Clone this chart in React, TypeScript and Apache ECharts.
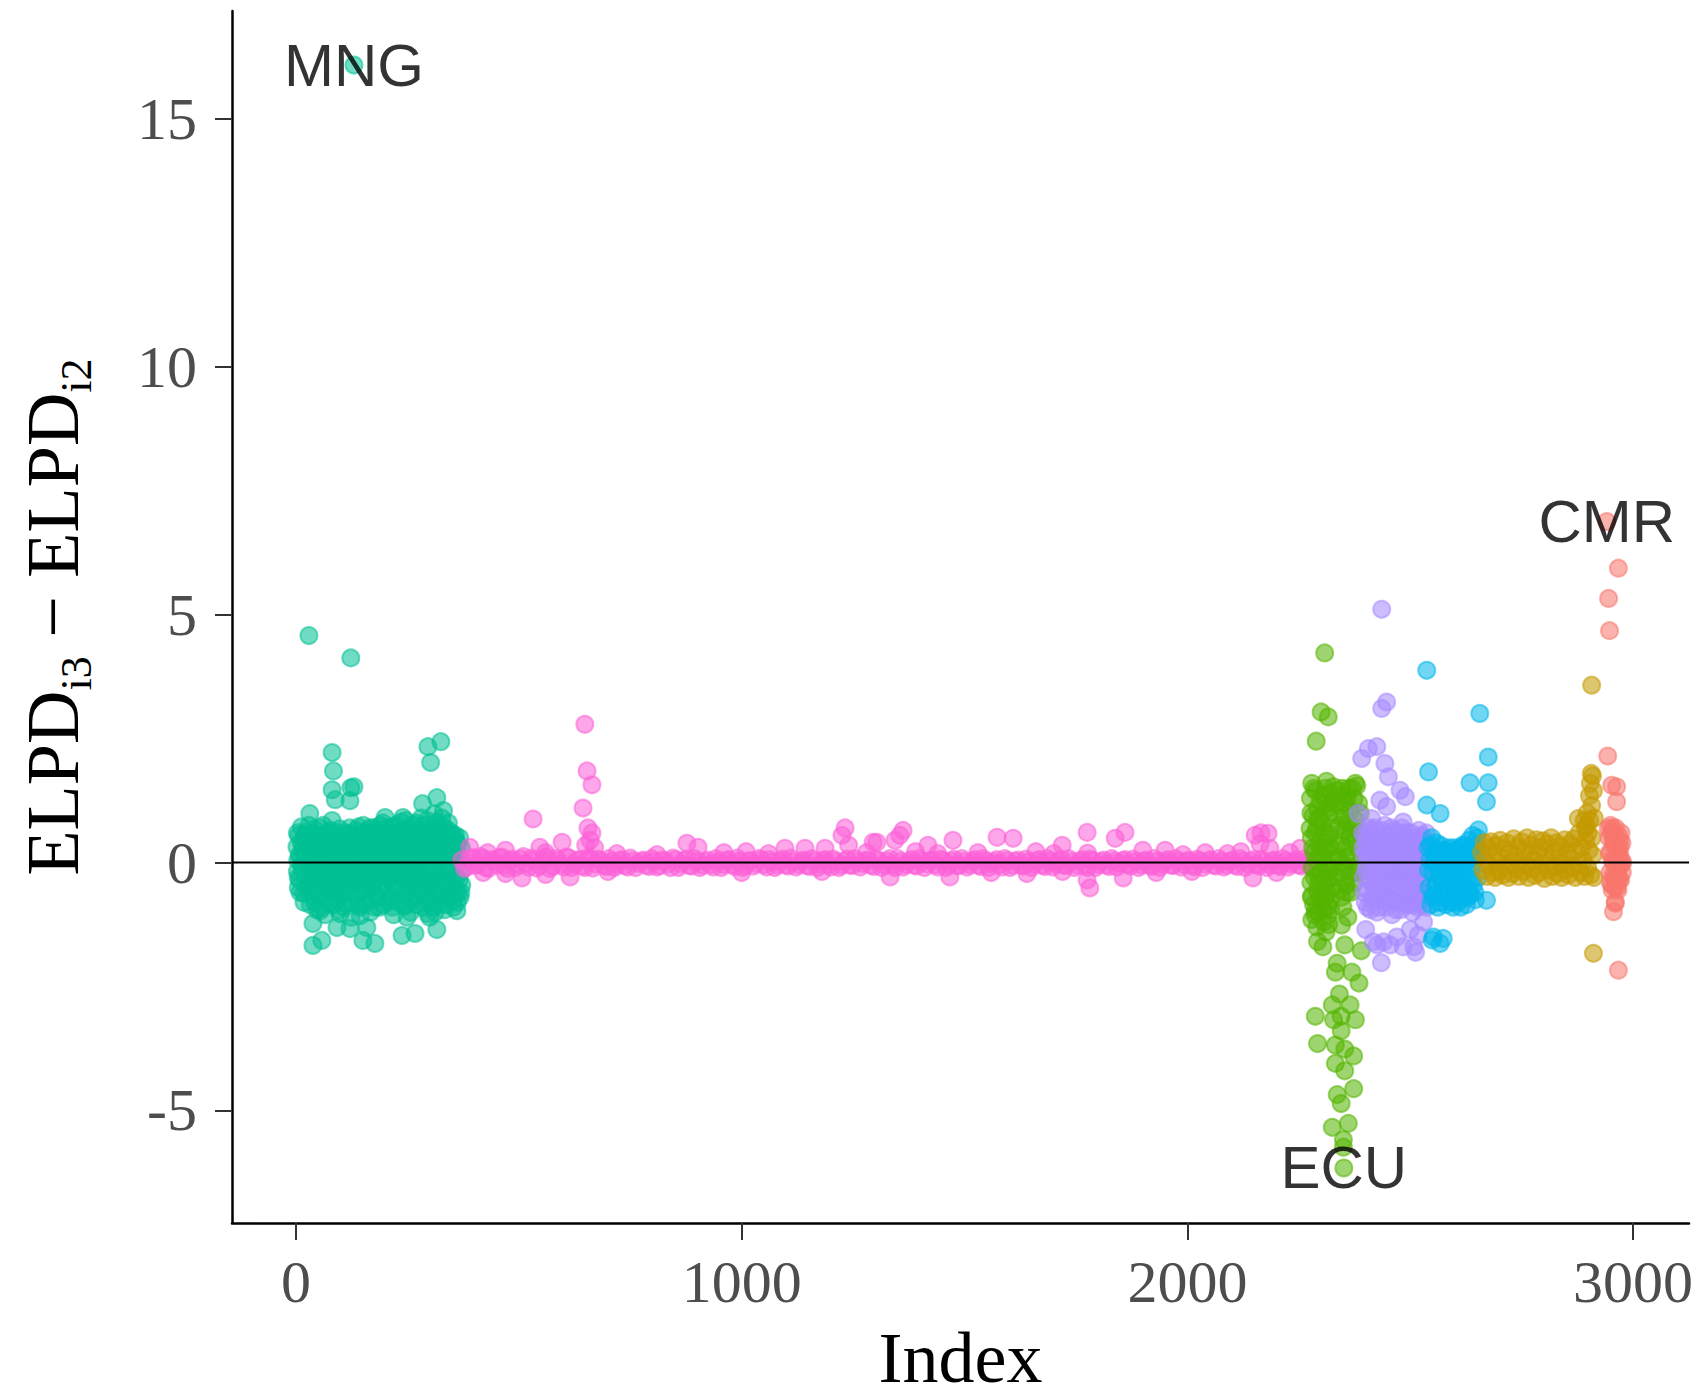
import React, { useEffect, useRef } from "react";
import * as echarts from "echarts";

// ---------- axes ----------
const xMin = -143.6;
const xMax = 3125.4;
const yMin = -7.27;
const yMax = 17.18;
const xTicks = [0, 1000, 2000, 3000];
const yTicks = [-5, 0, 5, 10, 15];

// ---------- groups (index order) ----------
const groupNames = ["g1", "g2", "g3", "g4", "g5", "g6", "g7"];
const groupColors = [
  [0, 192, 148], // teal
  [251, 97, 215], // pink
  [83, 180, 0], // green
  [165, 138, 255], // purple
  [0, 182, 235], // blue
  [196, 154, 0], // gold
  [248, 118, 109], // red
];

// ---------- data: [index, ELPD_i3 - ELPD_i2] ----------
const tealPts: number[][] = [
  [130, 16.09], [29, 4.58], [123, 4.13], [81, 2.22], [84, 1.85], [81, 1.47], [123, 1.51], [130, 1.53],
  [88, 1.27], [121, 1.25], [296, 2.34], [325, 2.44], [302, 2.02], [284, 1.19], [316, 1.31], [31, 0.99],
  [200, 0.91], [240, 0.91], [81, 0.85], [61, 0.75], [350, 0.56],
  [5, -0.5], [38, -1.23], [38, -1.67], [58, -1.57], [54, -0.97], [92, -1.31], [121, -1.33], [159, -1.31],
  [150, -1.57], [177, -1.63], [238, -1.47], [267, -1.43], [312, -1.0], [316, -1.35], [361, -0.97],
  [249, -1.1], [296, -1.03], [368, -0.7], [99, -1.03], [144, -1.07],
  [2, 0.32], [3, -0.18], [4, 0.05], [6, 0.55], [8, -0.35], [10, 0.12], [12, 0.72], [13, -0.05], [15, 0.38],
  [17, -0.62], [19, 0.2], [21, -0.28], [23, 0.62], [25, 0.05], [27, -0.45], [30, 0.3], [32, -0.85],
  [34, 0.48], [36, -0.15], [38, 0.15], [40, -0.55], [43, 0.66], [45, -0.02], [47, -0.95], [49, 0.28],
  [51, -0.3], [54, 0.55], [56, -0.7], [58, 0.1], [60, -0.2], [63, 0.4], [65, -1.05], [67, -0.48],
  [69, 0.22], [72, 0.6], [74, -0.12], [76, -0.8], [79, 0.35], [81, -0.38], [84, 0.05], [86, 0.52],
  [88, -0.62], [91, -0.15], [93, 0.3], [95, -0.95], [98, 0.68], [100, -0.3], [102, 0.12], [105, -0.55],
  [107, 0.45], [110, -0.08], [112, -0.82], [114, 0.25], [117, 0.58], [119, -0.4], [121, 0.02],
  [124, -1.1], [126, 0.35], [128, -0.2], [131, 0.5], [133, -0.65], [136, 0.15], [138, -0.35],
  [140, 0.72], [143, -0.9], [145, 0.05], [147, 0.4], [150, -0.5], [152, -0.1], [155, 0.62],
  [157, -0.75], [159, 0.25], [162, -0.3], [164, 0.48], [167, -1.0], [169, 0.1], [171, -0.45],
  [174, 0.7], [176, -0.2], [178, 0.32], [181, -0.68], [183, 0.05], [186, 0.55], [188, -0.9],
  [190, -0.25], [193, 0.28], [195, 0.8], [197, -0.5], [200, 0.12], [202, -0.15], [205, 0.6],
  [207, -0.78], [209, 0.38], [212, -0.35], [214, 0.05], [217, 0.72], [219, -1.05], [221, -0.55],
  [224, 0.3], [226, -0.1], [229, 0.52], [231, -0.7], [233, 0.18], [236, 0.82], [238, -0.3], [240, 0.0],
  [243, -0.88], [245, 0.45], [248, -0.2], [250, 0.65], [252, -0.6], [255, 0.2], [257, -1.0], [260, 0.4],
  [262, -0.35], [264, 0.75], [267, 0.05], [269, -0.7], [272, 0.3], [274, -0.15], [276, 0.6],
  [279, -0.5], [281, 0.9], [284, -0.9], [286, 0.15], [288, -0.3], [291, 0.55], [293, -0.75],
  [296, 0.35], [298, 0.0], [300, -1.1], [303, 0.7], [305, -0.45], [307, 0.2], [310, 0.98], [312, -0.6],
  [314, 0.4], [317, -0.2], [319, 0.8], [322, -0.85], [324, 0.1], [326, 0.55], [329, -0.4], [331, 1.05],
  [333, -0.95], [336, 0.25], [338, -0.15], [341, 0.65], [343, -0.7], [345, 0.4], [348, -0.3],
  [350, 0.1], [353, -0.9], [355, 0.5], [357, -0.55], [360, 0.2], [362, -0.8], [364, 0.35],
  [366, -0.35], [368, 0.05], [370, -0.6],
  [3, 0.6], [5, -0.3], [7, 0.15], [9, -0.6], [11, 0.42], [14, -0.15], [16, 0.25], [18, -0.8], [20, 0.55],
  [22, 0.0], [24, -0.5], [26, 0.35], [28, -0.2], [29, 0.75], [31, -0.65], [33, 0.1], [35, -0.35],
  [37, 0.6], [39, -0.05], [41, 0.3], [42, -0.8], [44, 0.2], [46, -0.4], [48, 0.5], [50, 0.05],
  [52, -0.6], [53, 0.7], [55, -0.25], [57, 0.3], [59, -0.9], [61, 0.55], [62, 0.0], [64, -0.45],
  [66, 0.2], [68, -0.7], [70, 0.45], [71, -0.1], [73, 0.3], [75, -0.55], [77, 0.65], [78, -0.3],
  [80, 0.1], [82, -0.85], [83, 0.4], [85, -0.2], [87, 0.25], [89, -0.5], [90, 0.6], [92, 0.0],
  [94, -0.75], [96, 0.35], [97, -0.3], [99, 0.15], [101, -0.65], [103, 0.5], [104, -0.1], [106, 0.3],
  [108, -0.9], [109, 0.6], [111, -0.35], [113, 0.1], [115, -0.6], [116, 0.4], [118, -0.2], [120, 0.7],
  [122, -0.5], [123, 0.2], [125, -0.8], [127, 0.55], [129, -0.05], [130, 0.3], [132, -0.4], [134, 0.65],
  [135, -0.15], [137, -0.85], [139, 0.35], [141, -0.3], [142, 0.1], [144, 0.55], [146, -0.6], [148, 0.2],
  [149, -0.2], [151, 0.75], [153, -0.85], [154, 0.4], [156, -0.35], [158, 0.05], [160, 0.6], [161, -0.55],
  [163, 0.15], [165, -0.15], [166, 0.7], [168, -0.75], [170, 0.35], [172, 0.0], [173, -0.5], [175, 0.45],
  [177, -0.9], [179, 0.2], [180, 0.65], [182, -0.3], [184, 0.3], [185, -0.7], [187, 0.1], [189, 0.75],
  [191, -0.45], [192, 0.4], [194, -0.1], [196, -0.85], [198, 0.5], [199, 0.15], [201, -0.6], [203, 0.3],
  [204, -0.3], [206, 0.7], [208, 0.0], [210, -0.7], [211, 0.5], [213, -0.2], [215, 0.25], [216, -0.9],
  [218, 0.55], [220, 0.1], [222, -0.45], [223, 0.75], [225, -0.25], [227, 0.35], [228, -0.8], [230, 0.05],
  [232, 0.6], [234, -0.5], [235, 0.25], [237, -0.15], [239, 0.5], [241, -0.65], [242, 0.35], [244, -0.3],
  [246, 0.85], [247, -0.85], [249, 0.1], [251, 0.4], [253, -0.4], [254, 0.7], [256, -0.15], [258, 0.3],
  [259, -0.75], [261, 0.55], [263, 0.0], [265, -0.5], [266, 0.4], [268, -0.25], [270, 0.8], [271, -0.85],
  [273, 0.15], [275, -0.4], [277, 0.45], [278, -0.1], [280, 0.65], [282, -0.6], [283, 0.25], [285, -0.3],
  [287, 0.75], [289, -0.8], [290, 0.05], [292, 0.4], [294, -0.45], [295, 0.85], [297, -0.2], [299, 0.55],
  [301, -0.7], [302, 0.2], [304, -0.35], [306, 0.65], [308, -0.9], [309, 0.3], [311, -0.1], [313, 0.8],
  [315, -0.55], [316, 0.1], [318, -0.3], [320, 0.5], [321, -0.75], [323, 0.35], [325, 0.0], [327, 0.9],
  [328, -0.6], [330, 0.2], [332, -0.25], [334, 0.7], [335, -0.85], [337, 0.45], [339, -0.4], [340, 0.05],
  [342, 0.8], [344, -0.6], [346, 0.25], [347, -0.15], [349, 0.6], [351, -0.5], [352, 0.3], [354, -0.75],
  [356, 0.15], [358, 0.55], [359, -0.3], [361, 0.4], [363, -0.6], [365, 0.1], [367, 0.5], [369, -0.2],
  [371, 0.3], [372, -0.45],
];

const pinkPts: number[][] = [
  [372, 0.05], [384, -0.08], [396, 0.1], [408, -0.03], [420, 0.08], [432, -0.12], [444, 0.02], [456, 0.1],
  [468, -0.06], [480, 0.04], [492, -0.1], [504, 0.07], [516, -0.02], [528, 0.09], [540, -0.11],
  [552, 0.03], [564, 0.12], [576, -0.07], [588, 0.05], [600, -0.09], [612, 0.1], [624, -0.04],
  [636, 0.06], [648, -0.1], [660, 0.08], [672, -0.03], [684, 0.04], [696, -0.08], [708, 0.02],
  [720, -0.05], [732, 0.06], [744, -0.09], [756, 0.03], [768, -0.02], [780, 0.05], [792, -0.08],
  [804, 0.02], [816, -0.06], [828, 0.04], [840, -0.1], [852, 0.06], [864, -0.03], [876, 0.07],
  [888, -0.07], [900, 0.03], [912, -0.05], [924, 0.05], [936, -0.09], [948, 0.02], [960, -0.04],
  [972, 0.06], [984, -0.08], [996, 0.03], [1008, -0.06], [1020, 0.04], [1032, -0.02], [1044, 0.06],
  [1056, -0.09], [1068, 0.01], [1080, -0.05], [1092, 0.07], [1104, -0.07], [1116, 0.02], [1128, -0.04],
  [1140, 0.05], [1152, -0.08], [1164, 0.03], [1176, -0.03], [1188, 0.06], [1200, -0.09], [1212, 0.02],
  [1224, -0.05], [1236, 0.07], [1248, -0.06], [1260, 0.03], [1272, -0.02], [1284, 0.05], [1296, -0.08],
  [1308, 0.04], [1320, -0.05], [1332, 0.08], [1344, -0.1], [1356, 0.02], [1368, -0.04], [1380, 0.06],
  [1392, -0.07], [1404, 0.03], [1416, -0.03], [1428, 0.05], [1440, -0.09], [1452, 0.04], [1464, -0.05],
  [1476, 0.07], [1488, -0.06], [1500, 0.02], [1512, -0.04], [1524, 0.06], [1536, -0.08], [1548, 0.03],
  [1560, -0.02], [1572, 0.06], [1584, -0.09], [1596, 0.04], [1608, -0.05], [1620, 0.05], [1632, -0.07],
  [1644, 0.02], [1656, -0.04], [1668, 0.06], [1680, -0.08], [1692, 0.03], [1704, -0.03], [1716, 0.07],
  [1728, -0.06], [1740, 0.02], [1752, -0.05], [1764, 0.06], [1776, -0.1], [1788, 0.04], [1800, -0.04],
  [1812, 0.05], [1824, -0.08], [1836, 0.03], [1848, -0.02], [1860, 0.06], [1872, -0.07], [1884, 0.02],
  [1896, -0.05], [1908, 0.05], [1920, -0.08], [1932, 0.03], [1944, -0.03], [1956, 0.06], [1968, -0.06],
  [1980, 0.02], [1992, -0.04], [2004, 0.05], [2016, -0.09], [2028, 0.03], [2040, -0.03], [2052, 0.06],
  [2064, -0.07], [2076, 0.02], [2088, -0.05], [2100, 0.05], [2112, -0.08], [2124, 0.03], [2136, -0.03],
  [2148, 0.06], [2160, -0.07], [2172, 0.02], [2184, -0.05], [2196, 0.05], [2208, -0.08], [2220, 0.03],
  [2232, -0.03], [2244, 0.06], [2256, -0.07], [2268, 0.02],
  [378, -0.12], [390, 0.08], [402, -0.06], [414, 0.12], [426, -0.1], [438, 0.06], [450, -0.05],
  [462, 0.11], [474, -0.12], [486, 0.07], [498, -0.04], [510, 0.12], [522, -0.09], [534, 0.05],
  [546, -0.06], [558, 0.1], [570, -0.12], [582, 0.08], [594, -0.03], [606, 0.11], [618, -0.1],
  [630, 0.04], [642, -0.07], [654, 0.1], [666, -0.11], [678, 0.07], [690, -0.05], [702, 0.08],
  [714, -0.1], [726, 0.04], [738, -0.06], [750, 0.09], [762, -0.1], [774, 0.03], [786, -0.05],
  [798, 0.08], [810, -0.09], [822, 0.05], [834, -0.03], [846, 0.09], [858, -0.1], [870, 0.04],
  [882, -0.06], [894, 0.08], [906, -0.1], [918, 0.02], [930, -0.04], [942, 0.08], [954, -0.1],
  [966, 0.05], [978, -0.04], [990, 0.09], [1002, -0.1], [1014, 0.03], [1026, -0.07], [1038, 0.08],
  [1050, -0.04], [1062, 0.06], [1074, -0.1], [1086, 0.03], [1098, -0.05], [1110, 0.09], [1122, -0.09],
  [1134, 0.03], [1146, -0.06], [1158, 0.08], [1170, -0.1], [1182, 0.04], [1194, -0.04], [1206, 0.07],
  [1218, -0.1], [1230, 0.02], [1242, -0.05], [1254, 0.08], [1266, -0.09], [1278, 0.04], [1290, -0.05],
  [1302, 0.07], [1314, -0.1], [1326, 0.03], [1338, -0.05], [1350, 0.08], [1362, -0.09], [1374, 0.02],
  [1386, -0.05], [1398, 0.08], [1410, -0.1], [1422, 0.04], [1434, -0.04], [1446, 0.07], [1458, -0.1],
  [1470, 0.03], [1482, -0.06], [1494, 0.08], [1506, -0.09], [1518, 0.03], [1530, -0.05], [1542, 0.08],
  [1554, -0.1], [1566, 0.02], [1578, -0.04], [1590, 0.08], [1602, -0.1], [1614, 0.03], [1626, -0.05],
  [1638, 0.07], [1650, -0.1], [1662, 0.04], [1674, -0.05], [1686, 0.08], [1698, -0.09], [1710, 0.02],
  [1722, -0.05], [1734, 0.08], [1746, -0.1], [1758, 0.03], [1770, -0.05], [1782, 0.07], [1794, -0.1],
  [1806, 0.02], [1818, -0.05], [1830, 0.08], [1842, -0.09], [1854, 0.04], [1866, -0.04], [1878, 0.07],
  [1890, -0.1], [1902, 0.03], [1914, -0.05], [1926, 0.08], [1938, -0.1], [1950, 0.02], [1962, -0.05],
  [1974, 0.08], [1986, -0.09], [1998, 0.03], [2010, -0.05], [2022, 0.07], [2034, -0.1], [2046, 0.03],
  [2058, -0.05], [2070, 0.08], [2082, -0.09], [2094, 0.02], [2106, -0.05], [2118, 0.08], [2130, -0.1],
  [2142, 0.03], [2154, -0.04], [2166, 0.07], [2178, -0.1], [2190, 0.03], [2202, -0.05], [2214, 0.08],
  [2226, -0.09], [2238, 0.02], [2250, -0.05], [2262, 0.07], [2272, -0.05],
  [720, 0.18], [810, 0.16], [960, 0.2], [1010, 0.22], [1060, 0.18], [1280, 0.2], [1390, 0.22],
  [1440, 0.18], [1530, 0.2], [1660, 0.22], [1700, 0.18], [1990, 0.16], [2040, 0.2], [2090, 0.18],
  [2120, 0.22], [2230, 0.2], [1000, -0.2], [1180, -0.18], [1560, -0.2], [1640, -0.22], [1720, -0.18],
  [1930, -0.2], [2010, -0.18], [2200, -0.2], [420, -0.2], [470, -0.22], [560, -0.24], [700, -0.18],
  [390, 0.31], [430, 0.2], [470, 0.25], [507, -0.31], [532, 0.88], [547, 0.31], [560, 0.2], [597, 0.41],
  [615, -0.29], [644, 1.1], [648, 2.79], [653, 1.85], [664, 1.57], [655, 0.7], [664, 0.6], [660, 0.45],
  [650, 0.35], [670, 0.3], [877, 0.39], [902, 0.31], [1097, 0.29], [1142, 0.29], [1187, 0.29],
  [1225, 0.55], [1232, 0.7], [1240, 0.35], [1295, 0.41], [1303, 0.41], [1344, 0.45], [1362, 0.65],
  [1355, 0.55], [1418, 0.35], [1474, 0.45], [1467, -0.29], [1333, -0.29], [1573, 0.51], [1609, 0.49],
  [1719, 0.35], [1775, 0.61], [1781, -0.51], [1775, -0.35], [1776, 0.19], [1838, 0.49], [1860, 0.61],
  [1856, -0.31], [1900, 0.25], [1950, 0.25], [2152, 0.55], [2165, 0.6], [2163, 0.38], [2181, 0.59],
  [2185, 0.29], [2253, 0.29], [2147, -0.31],
];

const greenPts: number[][] = [
  [2276, 1.3], [2282, 0.95], [2278, 0.5], [2284, 0.2], [2280, -0.1], [2277, -0.4], [2283, -0.85],
  [2279, -1.15], [2288, 1.45], [2292, 1.1], [2290, 0.7], [2294, 0.35], [2289, 0.05], [2293, -0.25],
  [2291, -0.55], [2295, -1.0], [2290, -1.3], [2298, 1.25], [2302, 0.8], [2300, 0.45], [2304, 0.1],
  [2299, -0.2], [2303, -0.6], [2301, -0.8], [2305, -1.2], [2310, 1.5], [2312, 1.2], [2308, 0.6],
  [2314, 0.25], [2310, -0.05], [2313, -0.4], [2309, -0.7], [2315, -1.05], [2311, -1.4], [2318, 0.95],
  [2320, 0.3], [2319, -0.3], [2321, -0.75], [2317, -1.25], [2326, 1.25], [2328, 0.05], [2327, -0.5],
  [2338, 1.45], [2342, 1.15], [2340, 0.75], [2344, 0.4], [2339, 0.1], [2343, -0.2], [2341, -0.55],
  [2350, 1.35], [2354, 1.2], [2352, 0.65], [2355, 0.3], [2351, -0.1], [2356, -0.45], [2349, -0.9],
  [2362, 1.5], [2366, 1.05], [2364, 0.5], [2368, 0.15], [2363, -0.25], [2367, -0.6], [2360, -1.1],
  [2374, 1.3], [2378, 0.85], [2376, 0.45], [2380, -0.05], [2375, -0.4], [2384, 1.2], [2386, 0.6],
  [2383, -0.2],
  [2277, 1.0], [2281, 0.3], [2285, -0.3], [2278, -0.7], [2286, -1.05], [2284, 1.5], [2287, 0.6],
  [2296, 0.9], [2297, 0.2], [2295, -0.4], [2296, -0.7], [2306, 1.35], [2305, 0.3], [2307, -0.35],
  [2306, -0.95], [2316, 1.1], [2315, 0.5], [2316, -0.15], [2314, -0.6], [2322, 1.4], [2323, 0.7],
  [2324, -0.1], [2322, -0.95], [2334, 1.2], [2335, 0.35], [2336, -0.3], [2346, 1.5], [2347, 0.9],
  [2347, 0.0], [2346, -0.7], [2358, 1.3], [2359, 0.8], [2358, 0.1], [2357, -0.6], [2370, 1.5],
  [2371, 0.7], [2371, -0.2], [2380, 1.55], [2381, 0.3], [2388, 1.0],
  [2308, 4.23], [2300, 3.04], [2316, 2.94], [2289, 2.45], [2279, 1.6], [2312, 1.64], [2328, 1.53],
  [2377, 1.6], [2308, 1.02], [2353, 0.94], [2275, 0.69], [2292, 0.87], [2320, 0.57], [2365, 0.61],
  [2279, -0.67], [2287, -0.97], [2316, -0.89], [2346, -1.26], [2292, -1.59], [2304, -1.7],
  [2353, -1.66], [2390, -1.78], [2336, -2.03], [2369, -2.21], [2332, -2.21], [2385, -2.43],
  [2341, -2.65], [2325, -2.87], [2365, -2.87], [2377, -3.17], [2287, -3.1], [2328, -3.17],
  [2345, -3.1], [2345, -3.39], [2292, -3.65], [2332, -3.68], [2353, -3.76], [2373, -3.9],
  [2332, -4.05], [2353, -4.2], [2373, -4.56], [2336, -4.68], [2345, -4.86], [2325, -5.34],
  [2361, -5.26], [2350, -5.59], [2350, -5.74], [2351, -6.16],
];

const purplePts: number[][] = [
  [2393, 0.6], [2395, -0.3], [2397, 0.15], [2399, -0.8], [2401, 0.4], [2403, -0.05], [2405, -0.55],
  [2407, 0.7], [2409, 0.25], [2411, -0.95], [2413, -0.2], [2415, 0.5], [2417, -0.65], [2419, 0.05],
  [2421, 0.35], [2423, -0.4], [2425, -1.0], [2427, 0.62], [2429, 0.1], [2431, -0.25], [2433, -0.75],
  [2435, 0.45], [2437, -0.1], [2439, 0.2], [2441, -0.55], [2443, 0.75], [2445, -0.9], [2447, 0.0],
  [2449, 0.4], [2451, -0.35], [2453, -0.7], [2455, 0.55], [2457, 0.15], [2459, -1.05], [2461, -0.2],
  [2463, 0.65], [2465, -0.5], [2467, 0.3], [2469, -0.05], [2471, -0.8], [2473, 0.5], [2475, -0.3],
  [2477, 0.1], [2479, -0.95], [2481, 0.7], [2483, -0.6], [2485, 0.25], [2487, -0.15], [2489, 0.45],
  [2491, -0.85], [2493, -0.35], [2495, 0.6], [2497, 0.05], [2499, -0.7], [2501, 0.35], [2503, -0.25],
  [2505, -1.0], [2507, 0.5], [2509, 0.15], [2511, -0.5], [2513, -0.85], [2515, 0.4], [2517, -0.1],
  [2519, 0.65], [2521, -0.4], [2523, 0.2], [2525, -0.75], [2527, 0.55], [2529, -0.2], [2531, 0.1],
  [2533, -0.6], [2535, 0.3], [2537, -0.9],
  [2394, 0.3], [2396, -0.6], [2398, 0.55], [2400, -0.15], [2402, 0.2], [2404, -0.9], [2406, 0.45],
  [2408, -0.35], [2410, 0.1], [2412, 0.65], [2414, -0.75], [2416, 0.25], [2418, -0.45], [2420, 0.7],
  [2422, -0.1], [2424, 0.15], [2426, -0.6], [2428, 0.4], [2430, -0.9], [2432, 0.3], [2434, -0.4],
  [2436, 0.65], [2438, -0.65], [2440, 0.05], [2442, 0.35], [2444, -0.25], [2446, 0.55], [2448, -0.8],
  [2450, 0.15], [2452, -0.15], [2454, 0.3], [2456, -0.45], [2458, 0.7], [2460, -0.75], [2462, 0.1],
  [2464, -0.3], [2466, 0.45], [2468, -0.95], [2470, 0.6], [2472, -0.1], [2474, 0.2], [2476, -0.6],
  [2478, 0.4], [2480, -0.25], [2482, 0.0], [2484, -0.8], [2486, 0.6], [2488, -0.4], [2490, 0.15],
  [2492, 0.5], [2494, -0.6], [2496, -0.1], [2498, 0.25], [2500, -0.85], [2502, 0.6], [2504, -0.4],
  [2506, 0.05], [2508, 0.35], [2510, -0.7], [2512, 0.2], [2514, -0.3], [2516, -0.9], [2518, 0.45],
  [2520, 0.0], [2522, -0.6], [2524, 0.5], [2526, -0.35], [2528, 0.25], [2530, -0.85], [2532, 0.4],
  [2534, -0.1], [2536, 0.6],
  [2436, 5.11], [2447, 3.24], [2436, 3.11], [2425, 2.34], [2406, 2.3], [2391, 2.1], [2443, 2.0],
  [2451, 1.73], [2477, 1.46], [2489, 1.33], [2432, 1.26], [2447, 1.13], [2484, 0.82], [2383, 0.99],
  [2413, 0.89], [2417, -1.6], [2440, -1.6], [2484, -1.7], [2518, -1.46], [2435, -2.02], [2455, -1.66],
  [2426, -1.66], [2508, -1.7], [2512, -1.81], [2470, -1.5], [2400, -1.35], [2500, -1.35], [2530, -1.2],
];

const bluePts: number[][] = [
  [2540, 0.3], [2542, -0.5], [2544, 0.05], [2546, -0.85], [2548, 0.5], [2550, -0.2], [2552, 0.2],
  [2554, -0.65], [2556, -0.05], [2558, 0.4], [2560, -0.4], [2562, -0.9], [2564, 0.15], [2566, -0.3],
  [2568, 0.35], [2570, -0.7], [2572, 0.0], [2574, -0.15], [2576, 0.25], [2578, -0.55], [2580, -0.85],
  [2582, 0.1], [2584, -0.35], [2586, 0.3], [2588, -0.75], [2590, -0.1], [2592, 0.2], [2594, -0.5],
  [2596, -0.9], [2598, 0.05], [2600, -0.25], [2602, 0.25], [2604, -0.6], [2606, -0.05], [2608, -0.8],
  [2610, 0.15], [2612, -0.4], [2614, 0.3], [2616, -0.7], [2618, 0.0], [2620, -0.2], [2622, 0.35],
  [2624, -0.55], [2626, -0.85], [2628, 0.1], [2630, -0.3], [2632, 0.45], [2634, -0.65], [2636, 0.2],
  [2638, -0.1], [2640, 0.55], [2642, -0.45], [2644, 0.3], [2646, -0.75], [2648, 0.05], [2650, 0.5],
  [2652, -0.3], [2655, 0.15],
  [2541, -0.15], [2545, 0.35], [2549, -0.7], [2553, 0.0], [2557, -0.45], [2561, 0.25], [2565, -0.8],
  [2569, 0.1], [2573, -0.4], [2577, -0.1], [2581, -0.6], [2585, 0.2], [2589, -0.3], [2593, -0.8],
  [2597, 0.3], [2601, -0.55], [2605, 0.1], [2609, -0.35], [2613, -0.9], [2617, 0.35], [2621, -0.5],
  [2625, 0.0], [2629, -0.7], [2633, 0.25], [2637, -0.35], [2641, 0.1], [2645, -0.6], [2649, 0.35],
  [2537, 3.88], [2656, 3.01], [2675, 2.13], [2541, 1.83], [2634, 1.61], [2675, 1.61], [2671, 1.23],
  [2537, 1.16], [2567, 0.99], [2653, 0.66], [2671, -0.76], [2634, -0.59], [2552, -1.5], [2574, -1.53],
  [2549, -1.56], [2567, -1.63],
];

const goldPts: number[][] = [
  [2660, 0.2], [2663, -0.15], [2666, 0.4], [2669, 0.05], [2672, -0.28], [2675, 0.3], [2678, -0.05],
  [2681, 0.42], [2684, -0.2], [2687, 0.15], [2690, -0.3], [2693, 0.35], [2696, 0.0], [2699, -0.18],
  [2702, 0.45], [2705, 0.1], [2708, -0.25], [2711, 0.28], [2714, -0.08], [2717, 0.4], [2720, -0.3],
  [2723, 0.18], [2726, 0.02], [2729, -0.22], [2732, 0.48], [2735, 0.12], [2738, -0.12], [2741, 0.32],
  [2744, -0.28], [2747, 0.05], [2750, 0.42], [2753, -0.18], [2756, 0.22], [2759, -0.05], [2762, 0.5],
  [2765, -0.3], [2768, 0.15], [2771, 0.35], [2774, -0.12], [2777, 0.05], [2780, -0.26], [2783, 0.46],
  [2786, 0.2], [2789, -0.2], [2792, 0.3], [2795, -0.02], [2798, 0.44], [2801, -0.32], [2804, 0.12],
  [2807, 0.38], [2810, -0.15], [2813, 0.02], [2816, 0.5], [2819, -0.28], [2822, 0.22], [2825, -0.08],
  [2828, 0.4], [2831, -0.22], [2834, 0.1], [2837, 0.32], [2840, -0.3], [2843, 0.0], [2846, 0.46],
  [2849, -0.15], [2852, 0.2], [2855, -0.25], [2858, 0.38], [2861, 0.08], [2864, -0.1], [2867, 0.48],
  [2870, -0.3], [2873, 0.25], [2876, -0.05], [2879, 0.6], [2882, -0.2], [2885, 0.3], [2888, 0.05],
  [2891, -0.28], [2890, 0.85], [2893, 0.7],
  [2894, 0.45], [2895, 0.75], [2897, 1.0], [2898, -0.1], [2899, 0.6], [2901, 0.25], [2902, 1.35],
  [2903, 0.85], [2904, 1.6], [2905, -0.25], [2906, 1.8], [2907, 1.15], [2908, 0.5], [2909, 1.75],
  [2910, 0.15], [2911, 1.45], [2912, -0.3], [2913, 0.9], [2877, 0.89], [2907, 3.58], [2911, -1.83],
];

const redPts: number[][] = [
  [2946, 0.5], [2948, -0.2], [2950, 0.2], [2952, -0.45], [2954, 0.7], [2956, 0.0], [2958, -0.3],
  [2960, 0.4], [2962, 0.1], [2964, -0.5], [2966, 0.3], [2968, -0.1], [2970, 0.15], [2972, -0.35],
  [2974, 0.05], [2976, -0.2], [2958, 0.6], [2970, 0.45], [2966, -0.55],
  [2947, 0.2], [2949, -0.4], [2951, 0.6], [2953, 0.05], [2955, -0.25], [2957, 0.35], [2959, -0.5],
  [2961, 0.7], [2963, -0.15], [2965, 0.15], [2967, 0.55], [2969, -0.35], [2971, 0.3], [2973, -0.05],
  [2975, 0.4], [2977, 0.0], [2949, 0.75], [2955, 0.45], [2961, -0.4], [2967, -0.3], [2973, 0.6],
  [2953, -0.55],
  [2941, 6.88], [2967, 5.94], [2945, 5.33], [2947, 4.68], [2943, 2.15], [2952, 1.56], [2963, 1.53],
  [2963, 1.23], [2944, 0.69], [2960, -0.79], [2956, -0.99], [2960, -0.82], [2967, -2.17],
];

const groupPts = [tealPts, pinkPts, greenPts, purplePts, bluePts, goldPts, redPts];

// ---------- annotations ----------
const annoNames = ["MNG", "ECU", "CMR"];
const annoX = [130, 2351, 2941];
const annoY = [16.09, -6.16, 6.88];

const SERIF = "'Liberation Serif', 'Times New Roman', serif";
const SANS = "'Liberation Sans', Arial, sans-serif";

function rgba(c: number[], a: number) {
  return `rgba(${c[0]},${c[1]},${c[2]},${a})`;
}

export default function App() {
  const ref = useRef<HTMLDivElement>(null);

  useEffect(() => {
    if (!ref.current) return;
    const chart = echarts.init(ref.current, null, { renderer: "svg" });

    const pointSeries = groupPts.map((pts, i) => ({
      type: "scatter",
      name: groupNames[i],
      data: pts,
      symbol: "circle",
      symbolSize: 17,
      silent: true,
      z: 2,
      itemStyle: {
        color: rgba(groupColors[i], 0.7),
        borderColor: rgba(groupColors[i], 0.7),
        borderWidth: 2,
      },
    }));

    const option: any = {
      animation: false,
      backgroundColor: "#ffffff",
      grid: {
        left: 232,
        right: 11,
        top: 11,
        bottom: 170,
        containLabel: false,
        outerBoundsMode: "none",
      },
      xAxis: {
        type: "value",
        min: xMin,
        max: xMax,
        name: "Index",
        nameLocation: "middle",
        nameGap: 99,
        nameTextStyle: { fontFamily: SERIF, fontSize: 72, color: "#000" },
        axisLine: { show: true, onZero: false, lineStyle: { color: "#000", width: 2.5 } },
        axisTick: {
          show: true,
          length: 17,
          customValues: xTicks,
          lineStyle: { color: "#333", width: 2 },
        },
        axisLabel: {
          customValues: xTicks,
          formatter: (v: number) => String(v),
          fontFamily: SERIF,
          fontSize: 60,
          color: "#4D4D4D",
          margin: 29,
        },
        splitLine: { show: false },
      },
      yAxis: {
        type: "value",
        min: yMin,
        max: yMax,
        name: "{a|ELPD}{s|i3}{a| − ELPD}{s|i2}",
        nameLocation: "middle",
        nameRotate: 90,
        nameGap: 134,
        nameTextStyle: {
          fontFamily: SERIF,
          fontSize: 74,
          color: "#000",
          rich: {
            a: { fontFamily: SERIF, fontSize: 74, lineHeight: 90, color: "#000" },
            s: { fontFamily: SERIF, fontSize: 44, lineHeight: 48, verticalAlign: "bottom", color: "#000" },
          },
        },
        axisLine: { show: true, onZero: false, lineStyle: { color: "#000", width: 2.5 } },
        axisTick: {
          show: true,
          length: 17,
          customValues: yTicks,
          lineStyle: { color: "#333", width: 2 },
        },
        axisLabel: {
          customValues: yTicks,
          formatter: (v: number) => String(v),
          fontFamily: SERIF,
          fontSize: 60,
          color: "#4D4D4D",
          margin: 35,
        },
        splitLine: { show: false },
      },
      series: [
        ...pointSeries,
        {
          type: "line",
          name: "zero",
          data: [
            [xMin, 0],
            [xMax, 0],
          ],
          symbol: "none",
          silent: true,
          z: 4,
          lineStyle: { color: "#000", width: 2 },
        },
        {
          type: "scatter",
          name: "labels",
          data: annoNames.map((n, i) => ({ name: n, value: [annoX[i], annoY[i]] })),
          symbolSize: 0,
          silent: true,
          z: 5,
          label: {
            show: true,
            position: "inside",
            formatter: "{b}",
            fontFamily: SANS,
            fontSize: 60,
            color: "#000",
          },
        },
      ],
    };

    chart.setOption(option);
    return () => chart.dispose();
  }, []);

  return (
    <div
      ref={ref}
      style={{ position: "fixed", left: 0, top: 0, width: 1700, height: 1393, background: "#fff" }}
    />
  );
}
